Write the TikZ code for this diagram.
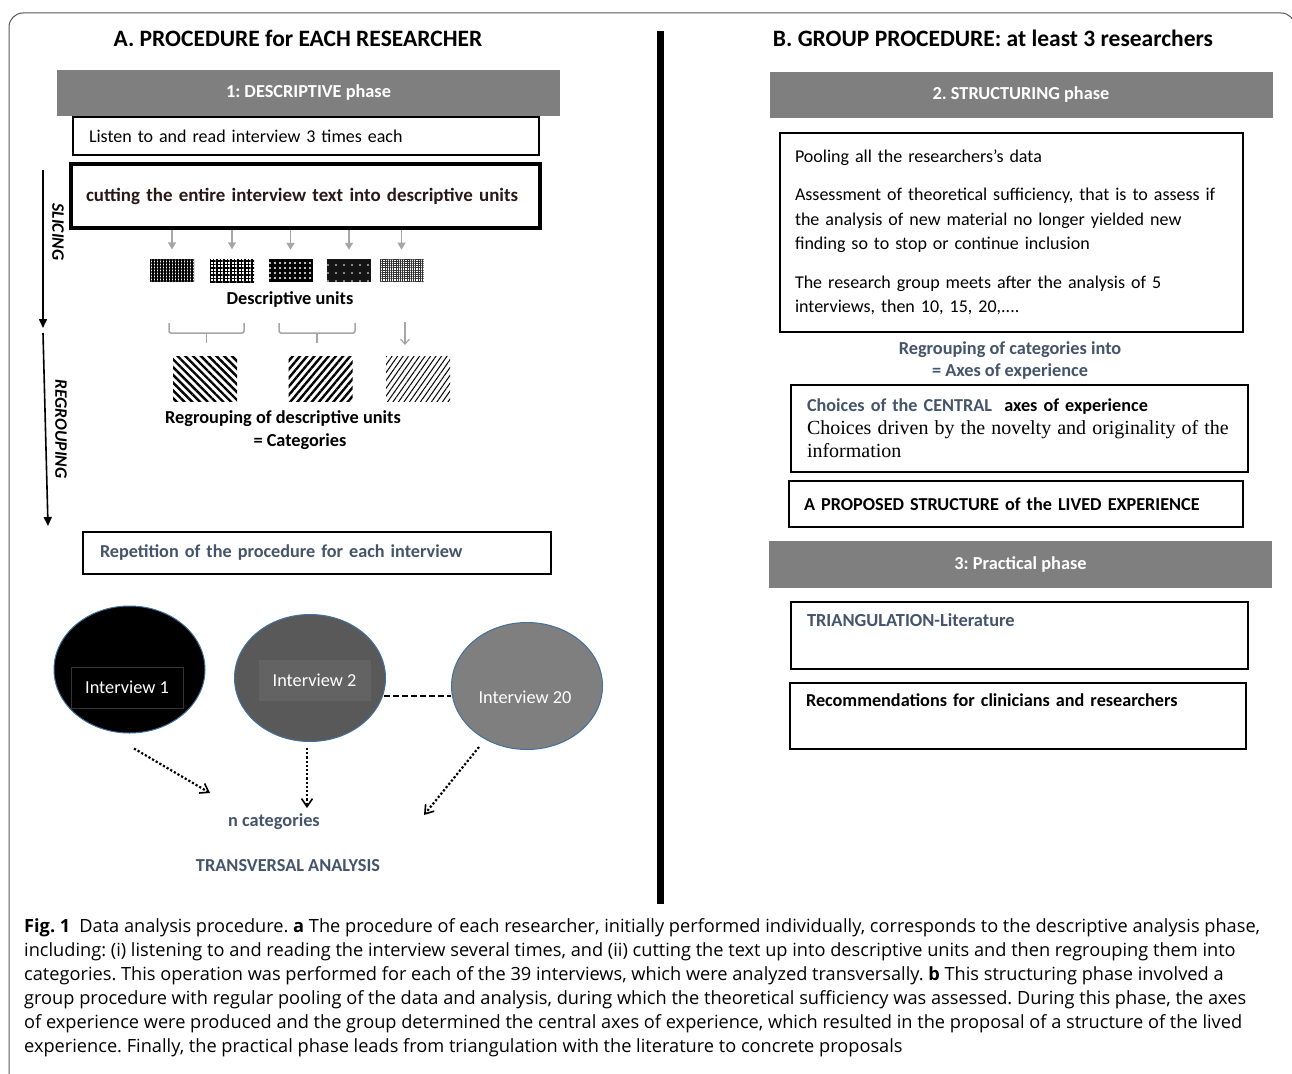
\documentclass[tikz,border=0pt]{standalone}
\usepackage{fontspec}
\setmainfont{Carlito}
\newfontfamily\capfont{Open Sans}
\newfontfamily\timesfont{Liberation Serif}
\usetikzlibrary{arrows.meta, shapes.geometric, patterns, patterns.meta, calc}
\frenchspacing
\definecolor{cslate}{HTML}{44546A}
\definecolor{cphase}{HTML}{7F7F7F}
\definecolor{cline}{HTML}{A6A6A6}
\definecolor{cring}{HTML}{41719C}
\definecolor{cframe}{HTML}{595959}
\definecolor{ccut}{HTML}{2A1818}
\tikzset{
  phase/.style={fill=cphase, text=white, font=\bfseries\fontsize{18.3}{21}\selectfont, minimum width=503pt, minimum height=46pt, inner sep=0pt},
  box/.style={draw=black, line width=2.8pt, align=left, inner ysep=0pt, inner xsep=16pt, font=\fontsize{18}{24}\selectfont},
  hd/.style={font=\bfseries\fontsize{23.5}{27}\selectfont},
  lbl/.style={font=\bfseries\fontsize{18.3}{22}\selectfont, text=#1, align=center},
  lbl/.default=black,
  unit/.style={minimum width=44pt, minimum height=23pt, inner sep=0pt},
  cat/.style={minimum width=64pt, minimum height=45pt, inner sep=0pt},
  interview/.style={ellipse, draw=cring, line width=1pt, fill=#1, minimum width=151pt, minimum height=127pt, inner sep=0pt},
  ivtext/.style={text=white, font=\fontsize{18.3}{21}\selectfont, minimum width=112pt, minimum height=41pt, inner sep=0pt},
  small/.style={-{Triangle[length=7pt, width=8pt]}, draw=cline, line width=1.5pt},
  brace/.style={draw=cline, line width=1.5pt, rounded corners=2pt},
  stage/.style={-{Triangle[length=9pt, width=8pt]}, line width=1.6pt},
  side/.style={font=\bfseries\itshape\fontsize{17.5}{20}\selectfont, rotate=-90},
  dotarrow/.style={-{Straight Barb[length=8pt, width=11pt, line width=1.6pt]}, dotted, line width=2.2pt},
}

\begin{document}
\begin{tikzpicture}[x=1pt, y=-1pt]
  \useasboundingbox (0,0) rectangle (1292,1073);
  \fill[white] (0,0) rectangle (1292,1073);
  \draw[cframe, line width=1pt, rounded corners=14pt] (9,1090) -- (9,13) -- (1295,13) -- (1295,1090);
  % A: each researcher
  \node[hd] (titleA) at (298,38) {A. PROCEDURE for EACH RESEARCHER};
  \node[phase] (phase1) at (308.5,93) {1: DESCRIPTIVE phase};
  \node[box, text width=434pt, minimum height=38pt] (listen) at (306,136) {Listen to and read interview 3 times each};
  \node[box, line width=3.2pt, inner xsep=15pt, text width=439pt, minimum height=64pt, font=\bfseries\fontsize{18.9}{22}\selectfont, text=ccut] (cut) at (305.5,196) {cutting the entire interview text into descriptive units};
  % slicing and regrouping
  \coordinate (sl1) at (43,170);
  \coordinate (sl2) at (43,328);
  \coordinate (rg1) at (43,333);
  \coordinate (rg2) at (48,526);
  \draw[stage] (sl1) -- (sl2);
  \draw[stage] (rg1) -- (rg2);
  \node[side] (slicing) at (58,232) {SLICING};
  \node[side] (regrouping) at (61,429) {REGROUPING};
  % descriptive units
  \node[unit, preaction={fill=white}, pattern={Hatch[distance=3pt, line width=1.1pt]}] (u1) at (172,270.5) {};
  \node[unit, preaction={fill=white}, pattern={Hatch[angle=0, distance=3.5pt, line width=1.5pt]}] (u2) at (232,270.5) {};
  \node[unit, preaction={fill=black}, pattern={Dots[distance=5pt, radius=1.1pt]}, pattern color=white] (u3) at (290.5,270.5) {};
  \node[unit, preaction={fill=black!92}, pattern={Dots[distance=8pt, radius=0.9pt]}, pattern color=white] (u4) at (349,270.5) {};
  \node[unit, preaction={fill=white}, pattern={Hatch[distance=2.2pt, line width=0.7pt]}, pattern color=black!80] (u5) at (401.5,270.5) {};
  \draw[small, shorten >=9pt] (cut.south -| u1) -- (u1.north);
  \draw[small, shorten >=9pt] (cut.south -| u2) -- (u2.north);
  \draw[small, shorten >=9pt] (cut.south -| u3) -- (u3.north);
  \draw[small, shorten >=9pt] (cut.south -| u4) -- (u4.north);
  \draw[small, shorten >=9pt] (cut.south -| u5) -- (u5.north);
  \node[lbl] (units) at (290,300) {Descriptive units};
  % categories
  \draw[brace] (169,323) -- (169,333) -- (244,333) -- (244,323);
  \draw[brace] (206.5,333) -- (206.5,343);
  \draw[brace] (279,323) -- (279,333) -- (355,333) -- (355,323);
  \draw[brace] (317,333) -- (317,343);
  \node[cat, pattern={Lines[angle=-45, distance=5.5pt, line width=2.4pt]}] (c1) at (205,379) {};
  \node[cat, pattern={Lines[angle=50, distance=5.5pt, line width=2.4pt]}] (c2) at (320.5,379) {};
  \node[cat, pattern={Lines[angle=55, distance=4.5pt, line width=1pt]}] (c3) at (418,379) {};
  \draw[draw=cline, line width=1.2pt, -{Straight Barb[length=5pt, width=9pt]}] ($(u5.south)+(3.5,40)$) -- ($(c3.north)+(-13,-11)$);
  \node[lbl] (regroup) at (283,419) {Regrouping of descriptive units};
  \node[lbl] (catlbl) at (300,442) {= Categories};
  \node[box, inner xsep=17pt, text width=434pt, minimum height=42pt, font=\bfseries\fontsize{18.2}{21}\selectfont, text=cslate] (repeat) at (317,553) {Repetition of the procedure for each interview};
  % interviews
  \node[interview=black] (iv1) at (129.5,669.5) {};
  \node[ivtext, draw=black!80, line width=0.8pt] (t1) at (127,687.5) {Interview 1};
  \node[interview=black!65] (iv2) at (310,678) {};
  \node[ivtext, fill=black!61] (t2) at (314.5,680.5) {Interview 2};
  \node[interview=cphase] (iv3) at (527,686) {};
  \node[ivtext] (t3) at (525,697) {Interview 20};
  \draw[line width=2pt, dash pattern=on 6pt off 3pt] ($(iv2.east)+(-2,18)$) -- ($(iv3.west)+(0,10)$);
  \coordinate (d1) at (210,793);
  \coordinate (d2) at (307,808);
  \coordinate (d3) at (424,815);
  \draw[dotarrow] ($(iv1.south)+(4.5,15)$) -- (d1);
  \draw[dotarrow] ($(iv2.south)+(-3,6)$) -- (d2);
  \draw[dotarrow] ($(iv3.south)+(-48,-3)$) -- (d3);
  \node[lbl=cslate] (ncat) at (274,822) {n categories};
  \node[lbl=cslate] (trans) at (288,866) {TRANSVERSAL ANALYSIS};
  % divider
  \draw[line width=7pt] (660,31) -- (660,904);
  % B: group procedure
  \node[hd] (titleB) at (993,38) {B. GROUP PROCEDURE: at least 3 researchers};
  \node[phase] (phase2) at (1021,94.5) {2. STRUCTURING phase};
  \node[box, inner xsep=15pt, text width=433pt, minimum height=199pt, font=\fontsize{18}{24.5}\selectfont] (pool) at (1011.5,232.5) {Pooling all the researchers's data\\[14pt]
    Assessment of theoretical sufficiency, that is to assess if\\
    the analysis of new material no longer yielded new\\
    finding so to stop or continue inclusion\\[14pt]
    The research group meets after the analysis of 5\\
    interviews, then 10, 15, 20,....};
  \node[lbl=cslate] (axes) at (1010,361) {Regrouping of categories into\\= Axes of experience};
  \node[box, text width=425pt, minimum height=87pt, font=\fontsize{18.2}{23}\selectfont] (central) at (1019.5,428.5) {\textbf{\color{cslate}Choices of the CENTRAL}\textbf{~ axes of experience}\\
    \timesfont\fontsize{20}{23}\selectfont Choices driven by the novelty and originality of the\\ information};
  \node[box, inner xsep=15pt, text width=424pt, minimum height=46pt, font=\bfseries\fontsize{18.2}{21}\selectfont] (struct) at (1016,504) {A PROPOSED STRUCTURE of the LIVED EXPERIENCE};
  \node[phase, minimum height=47pt] (phase3) at (1020.5,564.5) {3: Practical phase};
  \node[box, text width=425pt, minimum height=67pt, font=\bfseries\fontsize{18.4}{24}\selectfont, text=cslate] (tri) at (1019.5,635.5) {TRIANGULATION-Literature\\ \strut};
  \node[box, text width=424pt, minimum height=66pt, font=\bfseries\fontsize{18.2}{24}\selectfont] (recom) at (1018,716) {Recommendations for clinicians and researchers\\ \strut};
  % caption
  \node[anchor=north west, inner sep=0pt, align=left, font=\capfont\fontsize{18.2}{24}\selectfont] (caption) at (24,918) {\textbf{Fig. 1}\enspace Data analysis procedure. \textbf{a} The procedure of each researcher, initially performed individually, corresponds to the descriptive analysis phase,\\
    including: (i) listening to and reading the interview several times, and (ii) cutting the text up into descriptive units and then regrouping them into\\
    categories. This operation was performed for each of the 39 interviews, which were analyzed transversally. \textbf{b} This structuring phase involved a\\
    group procedure with regular pooling of the data and analysis, during which the theoretical sufficiency was assessed. During this phase, the axes\\
    of experience were produced and the group determined the central axes of experience, which resulted in the proposal of a structure of the lived\\
    experience. Finally, the practical phase leads from triangulation with the literature to concrete proposals};
\end{tikzpicture}
\end{document}
